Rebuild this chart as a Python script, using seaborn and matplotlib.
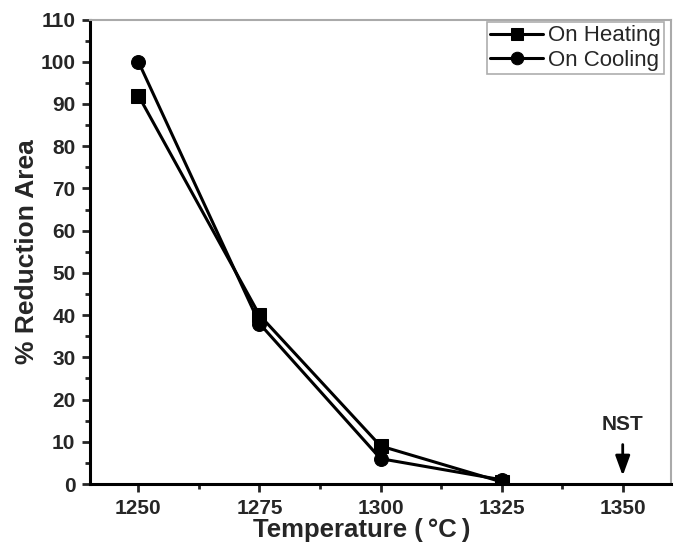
import matplotlib
matplotlib.use("Agg")
import matplotlib.pyplot as plt
import seaborn as sns
import pandas as pd
from matplotlib.ticker import MultipleLocator

temperature = [1250, 1275, 1300, 1325]
heating = [92, 40, 9, 0.5]
cooling = [100, 38, 6, 1]
series_names = ["On Heating", "On Cooling"]
xticks = [1250, 1275, 1300, 1325, 1350]
yticks = list(range(0, 111, 10))
nst_x = 1350

sns.set_style("white")
plt.rcParams['font.family'] = ['Liberation Sans', 'DejaVu Sans']

df = pd.DataFrame({
    "Temperature": temperature * 2,
    "RA": heating + cooling,
    "Series": [series_names[0]] * len(temperature) + [series_names[1]] * len(temperature),
})

fig = plt.figure(figsize=(6.75, 5.42), dpi=100)
ax = fig.add_axes([0.1333, 0.107, 0.861, 0.857])

sns.lineplot(data=df, x="Temperature", y="RA", hue="Series", style="Series",
             markers={"On Heating": "s", "On Cooling": "o"}, dashes=False,
             palette={"On Heating": "black", "On Cooling": "black"},
             linewidth=2.2, markersize=10, markeredgecolor="black", ax=ax)

ax.set_xlim(1240, 1360)
ax.set_ylim(0, 110)
ax.set_xticks(xticks)
ax.set_yticks(yticks)
ax.xaxis.set_minor_locator(MultipleLocator(12.5))
ax.yaxis.set_minor_locator(MultipleLocator(5))
ax.tick_params(which="major", direction="out", length=6, width=2, labelsize=15, pad=4.5)
ax.tick_params(which="minor", direction="out", length=3.5, width=2)
ax.tick_params(axis="both", which="both", bottom=True, left=True, top=False, right=False)
for lab in ax.get_xticklabels() + ax.get_yticklabels():
    lab.set_fontweight("bold")

for s in ["left", "bottom"]:
    ax.spines[s].set_linewidth(2.2)
    ax.spines[s].set_color("black")
for s in ["top", "right"]:
    ax.spines[s].set_linewidth(1.5)
    ax.spines[s].set_color("#aaaaaa")

ax.set_xlabel("Temperature (\u2009\u00b0C\u2009)", fontsize=18.5, fontweight="bold")
ax.xaxis.set_label_coords(0.467, -0.073)
ax.set_ylabel("% Reduction Area", fontsize=19, fontweight="bold", labelpad=1)

leg = ax.legend(loc="upper right", bbox_to_anchor=(0.988, 0.9946), fontsize=16,
                frameon=True, fancybox=False, borderpad=0.15, handlelength=2.4,
                handletextpad=0.22, labelspacing=0.17, borderaxespad=0)
leg.get_frame().set_edgecolor("#999999")
leg.get_frame().set_linewidth(1.2)
for h in leg.legend_handles:
    h.set_markersize(9)

ax.annotate("", xy=(nst_x, 1.3), xytext=(nst_x, 10),
            arrowprops=dict(arrowstyle="-|>,head_length=0.6,head_width=0.22",
                            color="black", lw=2, mutation_scale=20))
ax.text(nst_x, 12.8, "NST", ha="center", va="baseline", fontsize=15, fontweight="bold")

fig.savefig("out.png", dpi=100)
